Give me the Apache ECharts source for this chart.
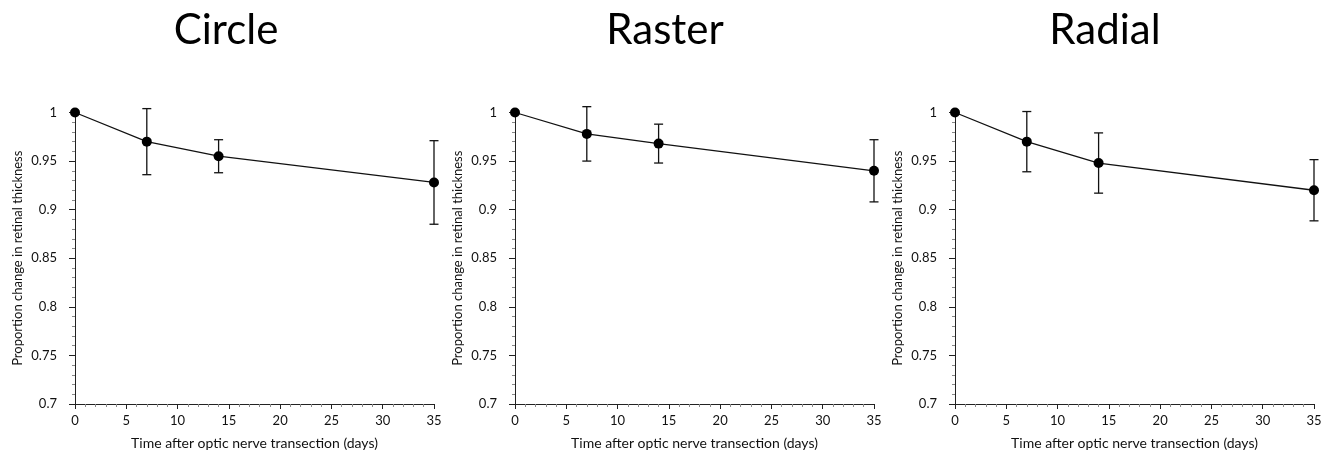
<!DOCTYPE html>
<html>
<head>
<meta charset="utf-8">
<script src="https://cdn.jsdelivr.net/npm/echarts@6/dist/echarts.min.js"></script>
<style>
html,body{margin:0;padding:0;background:#fff;}
#chart{width:1328px;height:450px;}
</style>
</head>
<body>
<div id="chart"></div>
<script>
const days = [0, 7, 14, 35];
const panelTitles = ['Circle', 'Raster', 'Radial'];
const circleMean = [1.0, 0.970, 0.955, 0.928];
const circleErr  = [0, 0.034, 0.017, 0.043];
const rasterMean = [1.0, 0.978, 0.968, 0.940];
const rasterErr  = [0, 0.028, 0.020, 0.032];
const radialMean = [1.0, 0.970, 0.948, 0.920];
const radialErr  = [0, 0.031, 0.031, 0.0315];
const xTitle = 'Time after optic nerve transection (days)';
const yTitle = 'Proportion change in retinal thickness';

const means = [circleMean, rasterMean, radialMean];
const errs = [circleErr, rasterErr, radialErr];

const FONT = 'Lato, "Noto Sans", sans-serif';
const gridLefts = [75, 515, 955];
const gridWidth = 359;
const titleX = [226, 665, 1105];

const grids = [], xAxes = [], yAxes = [], series = [], graphics = [];
for (let i = 0; i < 3; i++) {
  grids.push({left: gridLefts[i], width: gridWidth, top: 112.5, height: 291.5, containLabel: false, outerBoundsMode: 'none'});
  xAxes.push({
    type: 'value', gridIndex: i, min: 0, max: 35, interval: 5,
    name: xTitle, nameLocation: 'middle', nameGap: 32,
    nameTextStyle: {fontFamily: FONT, fontSize: 14, color: '#111'},
    axisLine: {show: true, lineStyle: {color: '#222', width: 1}},
    axisTick: {show: true, length: 5, lineStyle: {color: '#222'}},
    minorTick: {show: true, splitNumber: 5, length: 3, lineStyle: {color: '#888'}},
    splitLine: {show: false},
    axisLabel: {fontFamily: FONT, fontSize: 13, color: '#111', margin: 10}
  });
  yAxes.push({
    type: 'value', gridIndex: i, min: 0.7, max: 1, interval: 0.05, offset: 10,
    name: yTitle, nameLocation: 'middle', nameGap: 41, nameRotate: 90,
    nameTextStyle: {fontFamily: FONT, fontSize: 13, color: '#111'},
    axisLine: {show: true, lineStyle: {color: '#222', width: 1}},
    axisTick: {show: true, length: 6, lineStyle: {color: '#222'}},
    minorTick: {show: true, splitNumber: 5, length: 3, lineStyle: {color: '#888'}},
    splitLine: {show: false},
    axisLabel: {fontFamily: FONT, fontSize: 13, color: '#111', margin: 8}
  });
  const m = means[i], e = errs[i];
  series.push({
    type: 'custom', xAxisIndex: i, yAxisIndex: i, z: 1, clip: false,
    data: days.map((d, k) => [d, m[k] - e[k], m[k] + e[k]]),
    renderItem: function (params, api) {
      const x = api.value(0);
      const lo = api.coord([x, api.value(1)]);
      const hi = api.coord([x, api.value(2)]);
      if (Math.abs(hi[1] - lo[1]) < 0.5) return null;
      const w = 4.5;
      const st = {stroke: '#111', lineWidth: 1.3};
      return {
        type: 'group',
        children: [
          {type: 'line', shape: {x1: lo[0], y1: lo[1], x2: hi[0], y2: hi[1]}, style: st},
          {type: 'line', shape: {x1: lo[0] - w, y1: lo[1], x2: lo[0] + w, y2: lo[1]}, style: st},
          {type: 'line', shape: {x1: hi[0] - w, y1: hi[1], x2: hi[0] + w, y2: hi[1]}, style: st}
        ]
      };
    }
  });
  series.push({
    type: 'line', xAxisIndex: i, yAxisIndex: i, z: 3, clip: false,
    data: days.map((d, k) => [d, m[k]]),
    symbol: 'circle', symbolSize: 10,
    lineStyle: {color: '#111', width: 1.3},
    itemStyle: {color: '#000'},
    animation: false
  });
  graphics.push({
    type: 'text', x: titleX[i], y: 30,
    style: {text: panelTitles[i], font: '42px ' + FONT, fill: '#000', align: 'center', verticalAlign: 'middle'}
  });
}

const chart = echarts.init(document.getElementById('chart'), null, {renderer: 'canvas'});
chart.setOption({
  animation: false,
  backgroundColor: '#fff',
  grid: grids, xAxis: xAxes, yAxis: yAxes, series: series,
  graphic: graphics
});
</script>
</body>
</html>
